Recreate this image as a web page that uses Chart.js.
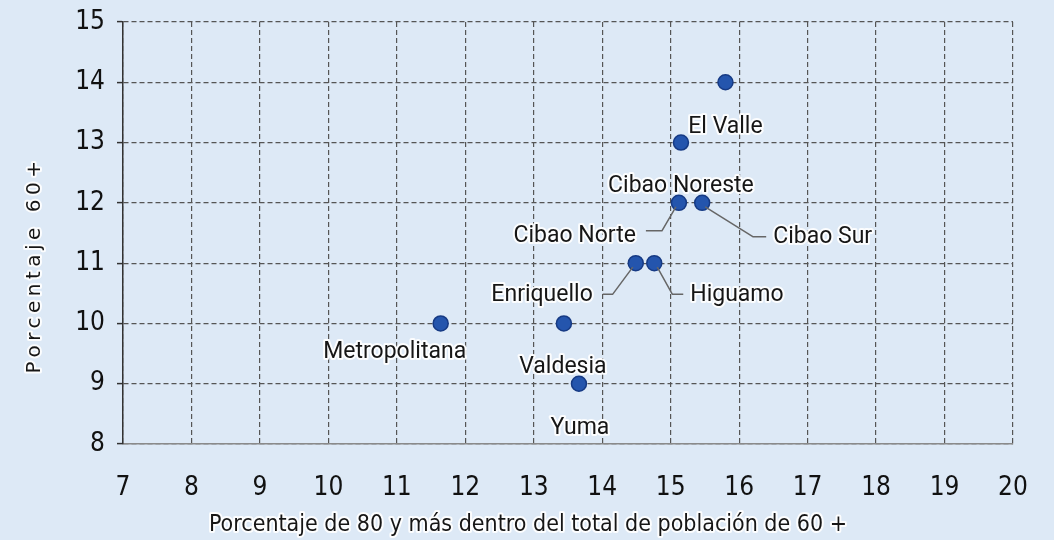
<!DOCTYPE html>
<html lang="es">
<head>
<meta charset="UTF-8">
<title>Porcentaje 60+ por región</title>
<script src="https://cdn.jsdelivr.net/npm/chart.js"></script>
<style>
    html, body { margin: 0; padding: 0; background: #dde9f6; overflow: hidden; }
    .grafico { width: 1054px; height: 540px; position: relative; }
</style>
</head>
<body>
<div class="grafico">
    <canvas id="myChart"></canvas>
</div>

<script>
    // datos
    var regiones = ['El Valle', 'Cibao Noreste', 'Cibao Norte', 'Cibao Sur', 'Enriquello', 'Higuamo', 'Metropolitana', 'Valdesia', 'Yuma'];
    var pct80 = [15.8, 15.15, 15.12, 15.46, 14.49, 14.76, 11.64, 13.44, 13.66];
    var pct60 = [14, 13, 12, 12, 11, 11, 10, 10, 9];
    var ticksX = [7, 8, 9, 10, 11, 12, 13, 14, 15, 16, 17, 18, 19, 20];
    var ticksY = [8, 9, 10, 11, 12, 13, 14, 15];

    var tituloX = 'Porcentaje de 80 y más dentro del total de población de 60 +';
    var tituloY = 'Porcentaje 60+';

    // posición de las etiquetas (px respecto al punto)
    var etiquetas = {
        'El Valle':      { dx: 0,   dy: 45, align: 'center' },
        'Cibao Noreste': { dx: 0,   dy: 44, align: 'center' },
        'Cibao Norte':   { dx: -43, dy: 33, align: 'right', linea: [[-17, 28], [-33, 28]] },
        'Cibao Sur':     { dx: 71,  dy: 34, align: 'left',  linea: [[51, 34], [64, 34]] },
        'Enriquello':    { dx: -43, dy: 32, align: 'right', linea: [[-23, 31], [-33, 31]] },
        'Higuamo':       { dx: 36,  dy: 32, align: 'left',  linea: [[18, 31], [29, 31]] },
        'Metropolitana': { dx: -46, dy: 29, align: 'center' },
        'Valdesia':      { dx: -1,  dy: 44, align: 'center' },
        'Yuma':          { dx: 1,   dy: 45, align: 'center' }
    };

    var puntos = [];
    for (var i = 0; i < regiones.length; i++) {
        puntos.push({ x: pct80[i], y: pct60[i] });
    }

    var fuenteEje = "'Liberation Sans Narrow', 'DejaVu Sans Condensed', sans-serif";

    function textoConHalo(ctx, texto, x, y) {
        ctx.lineJoin = 'round';
        ctx.strokeStyle = 'rgba(255,255,255,0.9)';
        ctx.lineWidth = 4;
        ctx.strokeText(texto, x, y);
        ctx.fillStyle = '#161616';
        ctx.fillText(texto, x, y);
    }

    var pluginEtiquetas = {
        id: 'etiquetas',
        afterDatasetsDraw: function (chart) {
            var ctx = chart.ctx;
            var meta = chart.getDatasetMeta(0);
            ctx.save();
            ctx.font = "23px Roboto, 'Noto Sans', sans-serif";
            ctx.textBaseline = 'middle';
            for (var i = 0; i < regiones.length; i++) {
                var p = meta.data[i];
                var cfg = etiquetas[regiones[i]];
                if (cfg.linea) {
                    ctx.beginPath();
                    ctx.strokeStyle = '#666';
                    ctx.lineWidth = 1.5;
                    ctx.moveTo(p.x + (cfg.linea[0][0] < 0 ? -3 : 3), p.y + 4);
                    ctx.lineTo(p.x + cfg.linea[0][0], p.y + cfg.linea[0][1]);
                    ctx.lineTo(p.x + cfg.linea[1][0], p.y + cfg.linea[1][1]);
                    ctx.stroke();
                }
                ctx.textAlign = cfg.align;
                textoConHalo(ctx, regiones[i], p.x + cfg.dx, p.y + cfg.dy);
            }
            ctx.restore();
        },
        afterDraw: function (chart) {
            var ctx = chart.ctx;
            // título del eje X
            ctx.save();
            ctx.font = "23px " + fuenteEje;
            ctx.textAlign = 'center';
            ctx.textBaseline = 'middle';
            textoConHalo(ctx, tituloX, 528, 525);
            ctx.restore();
            // título del eje Y con espaciado entre letras
            ctx.save();
            ctx.translate(35, 265);
            ctx.rotate(-Math.PI / 2);
            ctx.font = "20px 'DejaVu Sans', sans-serif";
            ctx.letterSpacing = '4.5px';
            ctx.textAlign = 'center';
            ctx.textBaseline = 'middle';
            textoConHalo(ctx, tituloY, 0, 0);
            ctx.restore();
        }
    };

    function grafico() {
        const ctx = document.getElementById('myChart');

        new Chart(ctx, {
            type: 'scatter',
            data: {
                datasets: [{
                    label: 'Regiones',
                    data: puntos,
                    backgroundColor: '#2455ad',
                    borderColor: '#163a84',
                    borderWidth: 1.5,
                    pointRadius: 7.5,
                    pointHoverRadius: 7.5
                }]
            },
            options: {
                responsive: true,
                maintainAspectRatio: false,
                animation: false,
                layout: {
                    padding: { top: 22, right: 41, left: 0, bottom: 0 }
                },
                scales: {
                    x: {
                        type: 'linear',
                        min: 7,
                        max: 20,
                        afterBuildTicks: function (scale) {
                            scale.ticks = ticksX.map(function (v) { return { value: v }; });
                        },
                        afterFit: function (scale) {
                            scale.height = 96;
                            scale.paddingLeft = 0;
                            scale.paddingRight = 0;
                        },
                        grid: {
                            color: '#555',
                            lineWidth: 1.2,
                            drawTicks: false
                        },
                        border: { display: true, color: '#8a8a8a', width: 1.5, dash: [5, 3] },
                        ticks: {
                            color: '#111',
                            padding: 29,
                            font: { family: fuenteEje, size: 26 }
                        }
                    },
                    y: {
                        type: 'linear',
                        min: 8,
                        max: 15,
                        afterBuildTicks: function (scale) {
                            scale.ticks = ticksY.map(function (v) { return { value: v }; });
                        },
                        afterFit: function (scale) {
                            scale.width = 123;
                            scale.paddingTop = 0;
                            scale.paddingBottom = 0;
                        },
                        grid: {
                            color: '#555',
                            lineWidth: 1.2,
                            drawTicks: true,
                            tickLength: 6,
                            tickColor: '#333',
                            tickWidth: 1.5,
                            tickBorderDash: []
                        },
                        border: { display: true, color: '#333', width: 1.5, dash: [5, 3] },
                        ticks: {
                            color: '#111',
                            padding: 12,
                            font: { family: fuenteEje, size: 26 }
                        }
                    }
                },
                plugins: {
                    legend: { display: false },
                    tooltip: { enabled: false }
                }
            },
            plugins: [pluginEtiquetas]
        });
    }

    grafico();
</script>
</body>
</html>
